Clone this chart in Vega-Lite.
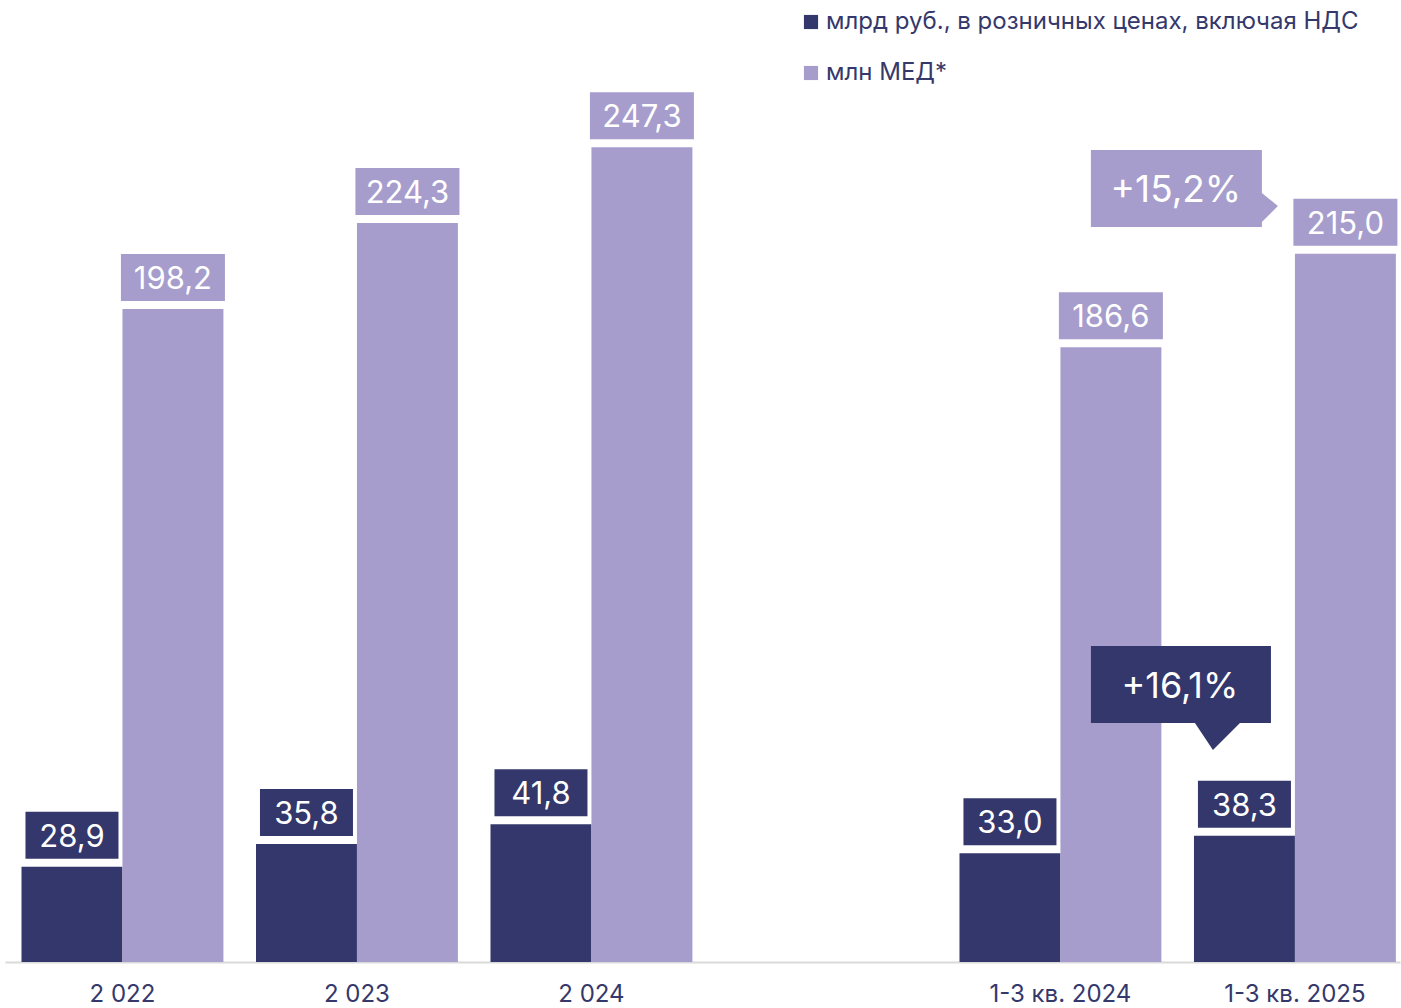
{
  "$schema": "https://vega.github.io/schema/vega-lite/v6.json",
  "width": 1395,
  "height": 962,
  "autosize": {"type": "none"},
  "padding": {"left": 5, "right": 1, "top": 0, "bottom": 46},
  "background": "white",
  "config": {
    "view": {"stroke": null},
    "font": "Inter",
    "locale": {"number": {"decimal": ",", "thousands": " ", "grouping": [3], "currency": ["", " ₽"]}}
  },
  "datasets": {
    "bars": [
      {"period": "2 022", "series": "млрд руб., в розничных ценах, включая НДС", "value": 28.9},
      {"period": "2 022", "series": "млн МЕД*", "value": 198.2},
      {"period": "2 023", "series": "млрд руб., в розничных ценах, включая НДС", "value": 35.8},
      {"period": "2 023", "series": "млн МЕД*", "value": 224.3},
      {"period": "2 024", "series": "млрд руб., в розничных ценах, включая НДС", "value": 41.8},
      {"period": "2 024", "series": "млн МЕД*", "value": 247.3},
      {"period": "1-3 кв. 2024", "series": "млрд руб., в розничных ценах, включая НДС", "value": 33.0},
      {"period": "1-3 кв. 2024", "series": "млн МЕД*", "value": 186.6},
      {"period": "1-3 кв. 2025", "series": "млрд руб., в розничных ценах, включая НДС", "value": 38.3},
      {"period": "1-3 кв. 2025", "series": "млн МЕД*", "value": 215.0}
    ],
    "growth": [
      {"period": "1-3 кв. 2025", "series": "млн МЕД*", "value": 215.0, "label": "+15,2%"},
      {"period": "1-3 кв. 2025", "series": "млрд руб., в розничных ценах, включая НДС", "value": 38.3, "label": "+16,1%"}
    ]
  },
  "data": {"name": "bars"},
  "encoding": {
    "x": {
      "field": "period",
      "type": "nominal",
      "sort": null,
      "scale": {"domain": ["2 022", "2 023", "2 024", " ", "1-3 кв. 2024", "1-3 кв. 2025"], "paddingInner": 0.139, "paddingOuter": 0.044, "align": 0.8},
      "axis": {
        "title": null,
        "labelAngle": 0,
        "labelFontSize": 24,
        "labelFont": "Inter",
        "labelColor": "#34386b",
        "labelBaseline": "alphabetic",
        "labelPadding": 39,
        "ticks": false,
        "tickSize": 0,
        "domainColor": "#d9d9d9",
        "domainWidth": 2,
        "grid": false
      }
    },
    "xOffset": {
      "field": "series",
      "type": "nominal",
      "scale": {"domain": ["млрд руб., в розничных ценах, включая НДС", "млн МЕД*"], "paddingInner": 0, "paddingOuter": 0}
    },
    "y": {
      "field": "value",
      "type": "quantitative",
      "scale": {"domain": [0, 292], "nice": false, "zero": true},
      "axis": null
    }
  },
  "layer": [
    {
      "mark": {"type": "bar", "stroke": null},
      "encoding": {
        "color": {
          "field": "series",
          "type": "nominal",
          "scale": {"domain": ["млрд руб., в розничных ценах, включая НДС", "млн МЕД*"], "range": ["#33376b", "#a69dcc"]},
          "legend": {
            "title": null,
            "orient": "none",
            "legendX": 794,
            "legendY": 10,
            "direction": "vertical",
            "symbolType": "square",
            "symbolSize": 200,
            "symbolStrokeWidth": 0,
            "labelFontSize": 24,
            "labelFont": "Inter",
            "labelColor": "#34386b",
            "labelLimit": 1000,
            "labelOffset": 3,
            "rowPadding": 27,
            "padding": 0,
            "offset": 0
          }
        }
      }
    },
    {
      "transform": [{"filter": "datum.value < 100"}],
      "mark": {"type": "point", "filled": true, "opacity": 1, "strokeWidth": 0, "size": 10000, "shape": "M-0.93,-1.1H0.93V-0.16H-0.93Z"},
      "encoding": {
        "fill": {
          "field": "series",
          "type": "nominal",
          "scale": {"domain": ["млрд руб., в розничных ценах, включая НДС", "млн МЕД*"], "range": ["#33376b", "#a69dcc"]},
          "legend": null
        }
      }
    },
    {
      "transform": [{"filter": "datum.value >= 100"}],
      "mark": {"type": "point", "filled": true, "opacity": 1, "strokeWidth": 0, "size": 10000, "shape": "M-1.04,-1.1H1.04V-0.16H-1.04Z"},
      "encoding": {
        "fill": {
          "field": "series",
          "type": "nominal",
          "scale": {"domain": ["млрд руб., в розничных ценах, включая НДС", "млн МЕД*"], "range": ["#33376b", "#a69dcc"]},
          "legend": null
        }
      }
    },
    {
      "mark": {"type": "text", "baseline": "alphabetic", "align": "center", "dy": -20, "fontSize": 31, "font": "Inter", "color": "white"},
      "encoding": {
        "text": {"field": "value", "type": "quantitative", "format": ".1f"}
      }
    },
    {
      "data": {"name": "growth"},
      "transform": [{"filter": "datum.label == '+15,2%'"}],
      "layer": [
        {
          "mark": {"type": "point", "filled": true, "opacity": 1, "strokeWidth": 0, "size": 40000, "color": "#a69dcc", "shape": "M-2.545,-1.037H-0.835V-0.607L-0.675,-0.477L-0.835,-0.317V-0.267H-2.545Z"}
        },
        {
          "mark": {"type": "text", "baseline": "alphabetic", "align": "center", "dx": -169.5, "dy": -51.7, "fontSize": 37, "font": "Inter", "color": "white"},
          "encoding": {"text": {"field": "label"}}
        }
      ]
    },
    {
      "data": {"name": "growth"},
      "transform": [{"filter": "datum.label == '+16,1%'"}],
      "layer": [
        {
          "mark": {"type": "point", "filled": true, "opacity": 1, "strokeWidth": 0, "size": 40000, "color": "#33376b", "shape": "M-1.535,-1.898H0.265V-1.128H-0.045L-0.315,-0.858L-0.495,-1.128H-1.535Z"}
        },
        {
          "mark": {"type": "text", "baseline": "alphabetic", "align": "center", "dx": -64.5, "dy": -137.8, "fontSize": 36, "font": "Inter", "color": "white"},
          "encoding": {"text": {"field": "label"}}
        }
      ]
    }
  ]
}
